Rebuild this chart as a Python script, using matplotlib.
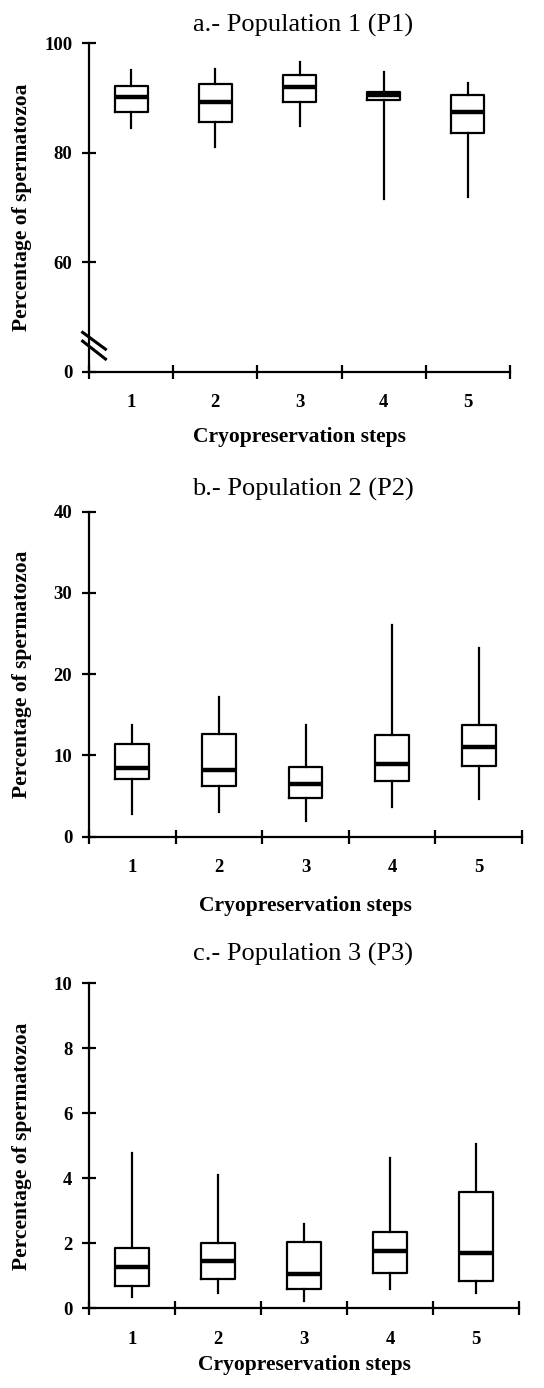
import matplotlib
matplotlib.use("Agg")
import matplotlib.pyplot as plt

plt.rcParams['font.family'] = ['Liberation Serif', 'DejaVu Serif']

steps = [1, 2, 3, 4, 5]
tick_labels = ['1', '2', '3', '4', '5']

# Panel a - Population 1 (axis broken: bottom tick labelled 0)
p1_whislo = [84.6, 81.0, 84.9, 71.6, 72.0]
p1_q1     = [87.4, 85.6, 89.3, 89.6, 83.6]
p1_med    = [90.2, 89.3, 92.0, 90.5, 87.5]
p1_q3     = [92.2, 92.6, 94.2, 91.2, 90.6]
p1_whishi = [95.1, 95.4, 96.5, 94.8, 92.8]

# Panel b - Population 2
p2_whislo = [2.8, 3.0, 1.9, 3.6, 4.7]
p2_q1     = [7.1, 6.2, 4.8, 6.9, 8.7]
p2_med    = [8.5, 8.2, 6.5, 8.9, 11.0]
p2_q3     = [11.4, 12.6, 8.6, 12.5, 13.8]
p2_whishi = [13.7, 17.2, 13.7, 26.1, 23.2]

# Panel c - Population 3
p3_whislo = [0.36, 0.48, 0.24, 0.58, 0.48]
p3_q1     = [0.68, 0.91, 0.59, 1.10, 0.83]
p3_med    = [1.28, 1.47, 1.06, 1.77, 1.69]
p3_q3     = [1.87, 2.00, 2.05, 2.35, 3.58]
p3_whishi = [4.77, 4.10, 2.58, 4.63, 5.06]

titles = ['a.- Population 1 (P1)', 'b.- Population 2 (P2)', 'c.- Population 3 (P3)']
yticks_list = [[40, 60, 80, 100], [0, 10, 20, 30, 40], [0, 2, 4, 6, 8, 10]]
yticklabels_list = [['0', '60', '80', '100'], ['0', '10', '20', '30', '40'],
                    ['0', '2', '4', '6', '8', '10']]
ylims = [(40, 100), (0, 40), (0, 10)]
xlabel = 'Cryopreservation steps'
ylabel = 'Percentage of spermatozoa'

data = [
    (p1_whislo, p1_q1, p1_med, p1_q3, p1_whishi),
    (p2_whislo, p2_q1, p2_med, p2_q3, p2_whishi),
    (p3_whislo, p3_q1, p3_med, p3_q3, p3_whishi),
]

W, H = 544, 1388
fig = plt.figure(figsize=(W / 100, H / 100), dpi=100)

# axes rectangles in pixels: left, right, top, bottom
rects = [(89, 510, 43.3, 372), (89, 522, 511.7, 836.7), (89, 519, 983.3, 1308.3)]
title_y = [25, 489, 954]
title_x = [303, 303, 303]
xlabel_y = [437, 906, 1365]
ylabel_x = 22

for i, (d, r) in enumerate(zip(data, rects)):
    l, rr, t, b = r
    ax = fig.add_axes([l / W, 1 - b / H, (rr - l) / W, (b - t) / H])
    whislo, q1, med, q3, whishi = d
    stats = [dict(med=m, q1=a, q3=c, whislo=lo, whishi=hi, fliers=[])
             for lo, a, m, c, hi in zip(whislo, q1, med, q3, whishi)]
    ax.bxp(stats, positions=steps, widths=0.39, showcaps=False, showfliers=False,
           patch_artist=False,
           boxprops=dict(color='black', linewidth=1.6),
           whiskerprops=dict(color='black', linewidth=1.6),
           medianprops=dict(color='black', linewidth=3.2, solid_capstyle='butt'))
    ax.set_xlim(0.5, 5.5)
    ax.set_ylim(*ylims[i])
    for s in ['top', 'right']:
        ax.spines[s].set_visible(False)
    for s in ['left', 'bottom']:
        ax.spines[s].set_linewidth(1.6)
    ax.set_yticks(yticks_list[i])
    ax.set_yticklabels(yticklabels_list[i], fontweight='bold', fontsize=13.5)
    ax.set_xticks([0.5, 1.5, 2.5, 3.5, 4.5, 5.5])
    ax.set_xticklabels([])
    ax.set_xticks(steps, minor=True)
    ax.set_xticklabels(tick_labels, minor=True, fontweight='bold', fontsize=13.5)
    ax.tick_params(axis='both', which='major', direction='inout', length=10, width=1.6)
    ax.tick_params(axis='y', pad=7)
    ax.tick_params(axis='x', which='minor', length=0, pad=16)
    ax.set_ylabel(ylabel, fontweight='bold', fontsize=15.5)
    ax.yaxis.set_label_coords(-(l - ylabel_x) / (rr - l), 0.5, transform=ax.transAxes)
    ax.yaxis.label.set_horizontalalignment('center')
    ax.yaxis.label.set_verticalalignment('center')
    ax.set_xlabel(xlabel, fontweight='bold', fontsize=15.5)
    ax.xaxis.set_label_coords(0.5, -(xlabel_y[i] - b) / (b - t), transform=ax.transAxes)
    ax.xaxis.label.set_verticalalignment('center')
    fig.text(title_x[i] / W, 1 - title_y[i] / H, titles[i], ha='center', va='center',
             fontsize=19)
    if i == 0:
        # axis-break marks
        for y0, y1 in [(47.4, 44.0), (45.8, 42.2)]:
            ax.plot([0.41, 0.71], [y0, y1], color='black', linewidth=2.2,
                    clip_on=False, solid_capstyle='butt')

fig.savefig('out.png', dpi=100)
